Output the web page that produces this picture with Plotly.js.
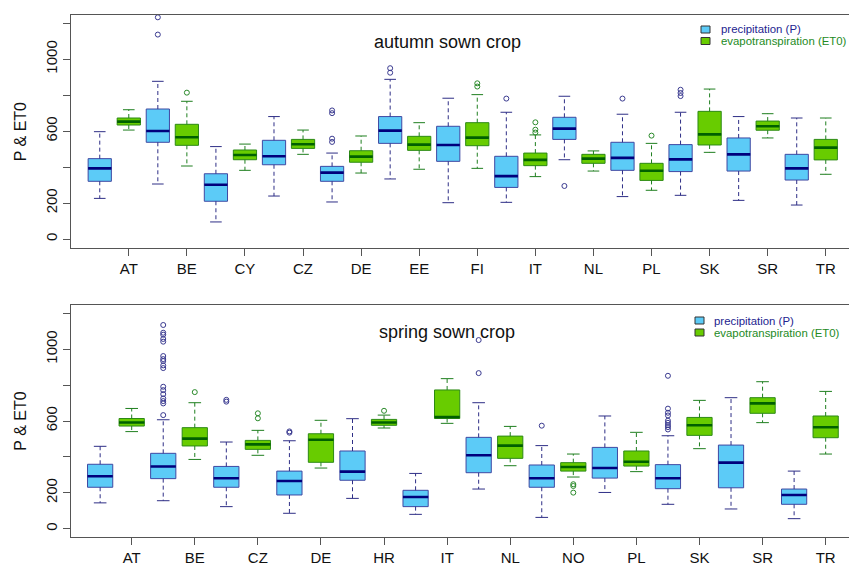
<!DOCTYPE html>
<html>
<head>
<meta charset="utf-8">
<script src="https://cdn.plot.ly/plotly-3.0.1.min.js"></script>
<style>
  html, body { margin: 0; padding: 0; background: #fff; }
  #chart { width: 849px; height: 565px; }
</style>
</head>
<body>
<div id="chart"></div>
<script>
// Country labels for each panel

var autumnCountries = ['AT', 'BE', 'CY', 'CZ', 'DE', 'EE', 'FI', 'IT', 'NL', 'PL', 'SK', 'SR', 'TR'];
var springCountries = ['AT', 'BE', 'CZ', 'DE', 'HR', 'IT', 'NL', 'NO', 'PL', 'SK', 'SR', 'TR'];

// Autumn sown crop - precipitation (P)

var autumnPLower  = [226, 306,  95, 239, 206, 334, 202, 204, 441, 236, 243, 215, 189];
var autumnPQ1     = [321, 538, 210, 413, 321, 532, 432, 287, 554, 382, 375, 378, 328];
var autumnPMedian = [393, 601, 302, 460, 369, 603, 523, 350, 614, 451, 443, 471, 393];
var autumnPQ3     = [447, 723, 363, 549, 404, 681, 627, 460, 677, 538, 525, 562, 471];
var autumnPUpper  = [597, 877, 514, 681, 478, 888, 783, 705, 794, 694, 705, 681, 673];
var autumnPOutliers = [[], [1233, 1137], [], [], [715, 700, 558, 540], [950, 925], [], [781], [295], [781], [830, 812, 795], [], []];

// Autumn sown crop - evapotranspiration (ET0)

var autumnELower  = [606, 406, 382, 471, 367, 388, 393, 347, 378, 271, 482, 562, 360];
var autumnEQ1     = [634, 521, 441, 504, 427, 493, 519, 408, 421, 326, 523, 605, 440];
var autumnEMedian = [653, 566, 467, 527, 458, 525, 564, 440, 447, 380, 582, 627, 508];
var autumnEQ3     = [673, 638, 495, 554, 491, 571, 647, 478, 471, 421, 710, 656, 554];
var autumnEUpper  = [719, 766, 528, 606, 573, 647, 803, 579, 490, 532, 834, 697, 673];
var autumnEOutliers = [[], [814], [], [], [], [], [866, 848], [649, 608, 592], [], [575], [], [], []];

// Spring sown crop - precipitation (P)

var springPLower  = [144, 156, 123,  86, 169,  80, 221,  63, 202, 136, 110,  56];
var springPQ1     = [231, 279, 231, 188, 270, 123, 312, 231, 282, 223, 228, 136];
var springPMedian = [292, 347, 281, 266, 318, 177, 409, 281, 338, 281, 368, 188];
var springPQ3     = [359, 420, 347, 321, 433, 214, 509, 355, 453, 357, 466, 221];
var springPUpper  = [459, 607, 483, 490, 613, 308, 702, 463, 628, 518, 730, 321];
var springPOutliers = [[],
  [1135, 1092, 1081, 1057, 1042, 962, 945, 934, 910, 895, 791, 772, 750, 726, 711, 698, 633],
  [718, 708], [542, 535], [], [], [1051, 867], [574], [],
  [852, 669, 646, 631, 602, 590, 577, 566, 553], [], []];

// Spring sown crop - evapotranspiration (ET0)

var springELower  = [541, 386, 409, 338, 561, 587, 351, 288, 318, 446, 591, 416];
var springEQ1     = [572, 461, 442, 370, 576, 614, 392, 321, 349, 520, 643, 507];
var springEMedian = [592, 502, 470, 496, 592, 622, 463, 344, 373, 576, 698, 565];
var springEQ3     = [614, 563, 492, 529, 609, 773, 516, 368, 433, 620, 730, 628];
var springEUpper  = [670, 702, 548, 604, 633, 836, 570, 416, 537, 715, 819, 765];
var springEOutliers = [[], [761], [643, 615], [], [657], [], [], [248, 238, 201], [], [], [], []];

var yTickVals = [0, 200, 400, 600, 800, 1000, 1200];
var yTickText = ['0', '200', '', '600', '', '1000', ''];

// Styles

var FONT = 'Liberation Sans, Arial, sans-serif';
var BOXW = 0.8;
var CAPW = 0.4;

var pStyle = {fill: '#5ccbf7', line: '#3f48a2', whisk: '#2e2e86', med: '#00007c', out: '#3a3a90'};
var eStyle = {fill: '#68cc00', line: '#2c8a14', whisk: '#1f7f1f', med: '#006000', out: '#2a8a2a'};

// Build traces for one series of boxes

function addSeries(traces, xa, ya, positions, lower, q1, med, q3, upper, outliers, st) {
  let wx = [], wy = [], cx = [], cy = [], mx = [], my = [], ox = [], oy = [];
  for (let i = 0; i < positions.length; i++) {
    let p = positions[i];
    wx.push(p, p, null, p, p, null);
    wy.push(q1[i], lower[i], null, q3[i], upper[i], null);
    cx.push(p - CAPW / 2, p + CAPW / 2, null, p - CAPW / 2, p + CAPW / 2, null);
    cy.push(lower[i], lower[i], null, upper[i], upper[i], null);
    mx.push(p - BOXW / 2, p + BOXW / 2, null);
    my.push(med[i], med[i], null);
    for (let j = 0; j < outliers[i].length; j++) {
      ox.push(p);
      oy.push(outliers[i][j]);
    }
  }
  traces.push({
    type: 'box', x: positions, q1: q1, median: med, q3: q3,
    lowerfence: q1, upperfence: q3, orientation: 'v',
    width: BOXW, whiskerwidth: 0, boxpoints: false,
    fillcolor: st.fill, line: {color: st.line, width: 1},
    xaxis: xa, yaxis: ya, showlegend: false, hoverinfo: 'skip'
  });
  traces.push({
    type: 'scatter', mode: 'lines', x: wx, y: wy, xaxis: xa, yaxis: ya,
    line: {color: st.whisk, width: 1, dash: '4px,3px'},
    showlegend: false, hoverinfo: 'skip'
  });
  traces.push({
    type: 'scatter', mode: 'lines', x: cx, y: cy, xaxis: xa, yaxis: ya,
    line: {color: st.whisk, width: 1},
    showlegend: false, hoverinfo: 'skip'
  });
  traces.push({
    type: 'scatter', mode: 'lines', x: mx, y: my, xaxis: xa, yaxis: ya,
    line: {color: st.med, width: 2.6},
    showlegend: false, hoverinfo: 'skip'
  });
  traces.push({
    type: 'scatter', mode: 'markers', x: ox, y: oy, xaxis: xa, yaxis: ya,
    marker: {symbol: 'circle-open', size: 5, color: st.out, line: {width: 1}},
    showlegend: false, hoverinfo: 'skip'
  });
}

let autumnPPos = [], autumnEPos = [], springPPos = [], springEPos = [];
for (i in autumnCountries) {
  autumnPPos.push(2 * i + 1);
  autumnEPos.push(2 * i + 2);
}
for (i in springCountries) {
  springPPos.push(2 * i + 1);
  springEPos.push(2 * i + 2);
}

let traces = [];
addSeries(traces, 'x', 'y', autumnPPos, autumnPLower, autumnPQ1, autumnPMedian, autumnPQ3, autumnPUpper, autumnPOutliers, pStyle);
addSeries(traces, 'x', 'y', autumnEPos, autumnELower, autumnEQ1, autumnEMedian, autumnEQ3, autumnEUpper, autumnEOutliers, eStyle);
addSeries(traces, 'x2', 'y2', springPPos, springPLower, springPQ1, springPMedian, springPQ3, springPUpper, springPOutliers, pStyle);
addSeries(traces, 'x2', 'y2', springEPos, springELower, springEQ1, springEMedian, springEQ3, springEUpper, springEOutliers, eStyle);

// Axes

function xAxis(range, countries, anchor) {
  return {
    range: range, anchor: anchor, domain: [0, 1],
    tickmode: 'array', tickvals: countries.map(function(c, k) { return 2 * k + 2; }), ticktext: countries,
    ticks: 'outside', ticklen: 7, tickcolor: '#555', tickwidth: 1,
    showline: true, mirror: true, linecolor: '#555', linewidth: 1,
    showgrid: false, zeroline: false,
    tickfont: {family: FONT, size: 15, color: '#111'}
  };
}

function yAxis(range, domain, anchor) {
  return {
    range: range, domain: domain, anchor: anchor,
    tickmode: 'array', tickvals: yTickVals, ticktext: yTickText, tickangle: -90,
    ticks: 'outside', ticklen: 7, tickcolor: '#555', tickwidth: 1,
    showline: true, linecolor: '#555', linewidth: 1,
    showgrid: false, zeroline: false,
    tickfont: {family: FONT, size: 15, color: '#111'},
    title: {text: 'P & ET0', font: {family: FONT, size: 16, color: '#111'}, standoff: 12}
  };
}

// Legends drawn as shapes and text (paper coords cover the plot area: x 71..849)

function px(x) { return (x - 71) / 778; }
function py(y) { return 1 - y / 565; }

let shapes = [];
let annotations = [];

function legend(iconX, rowP, rowE, textX) {
  let rows = [[rowP, pStyle.fill, 'precipitation (P)', '#23238f'], [rowE, eStyle.fill, 'evapotranspiration (ET0)', '#238a23']];
  for (r in rows) {
    let row = rows[r];
    shapes.push({
      type: 'rect', xref: 'paper', yref: 'paper',
      x0: px(iconX), x1: px(iconX + 9), y0: py(row[0] - 3.5), y1: py(row[0] + 3.5),
      fillcolor: row[1], line: {color: '#333', width: 1}
    });
    annotations.push({
      xref: 'paper', yref: 'paper', x: px(textX), y: py(row[0]),
      xanchor: 'left', yanchor: 'middle', showarrow: false, text: row[2],
      borderpad: 0,
      font: {family: FONT, size: 11.4, color: row[3]}
    });
  }
}

legend(701, 29.5, 41, 720);
legend(695, 320.5, 332.5, 713);

annotations.push({
  xref: 'paper', yref: 'paper', x: px(447.5), y: py(41.7), xanchor: 'center', yanchor: 'middle',
  showarrow: false, text: 'autumn sown crop', font: {family: FONT, size: 18, color: '#111'}
});
annotations.push({
  xref: 'paper', yref: 'paper', x: px(446.7), y: py(331.7), xanchor: 'center', yanchor: 'middle',
  showarrow: false, text: 'spring sown crop', font: {family: FONT, size: 18, color: '#111'}
});

let layout = {
  width: 849, height: 565,
  margin: {l: 71, r: 0, t: 0, b: 0, pad: 0},
  paper_bgcolor: '#fff', plot_bgcolor: '#fff',
  showlegend: false,
  xaxis: xAxis([0.01, 26.8], autumnCountries, 'y'),
  yaxis: yAxis([-51.7, 1246], [0.5605, 0.9735], 'x'),
  xaxis2: xAxis([0.076, 24.74], springCountries, 'y2'),
  yaxis2: yAxis([-47.9, 1248], [0.049, 0.4607], 'x2'),
  shapes: shapes,
  annotations: annotations
};

Plotly.newPlot('chart', traces, layout, {staticPlot: true, displayModeBar: false});
</script>
</body>
</html>
